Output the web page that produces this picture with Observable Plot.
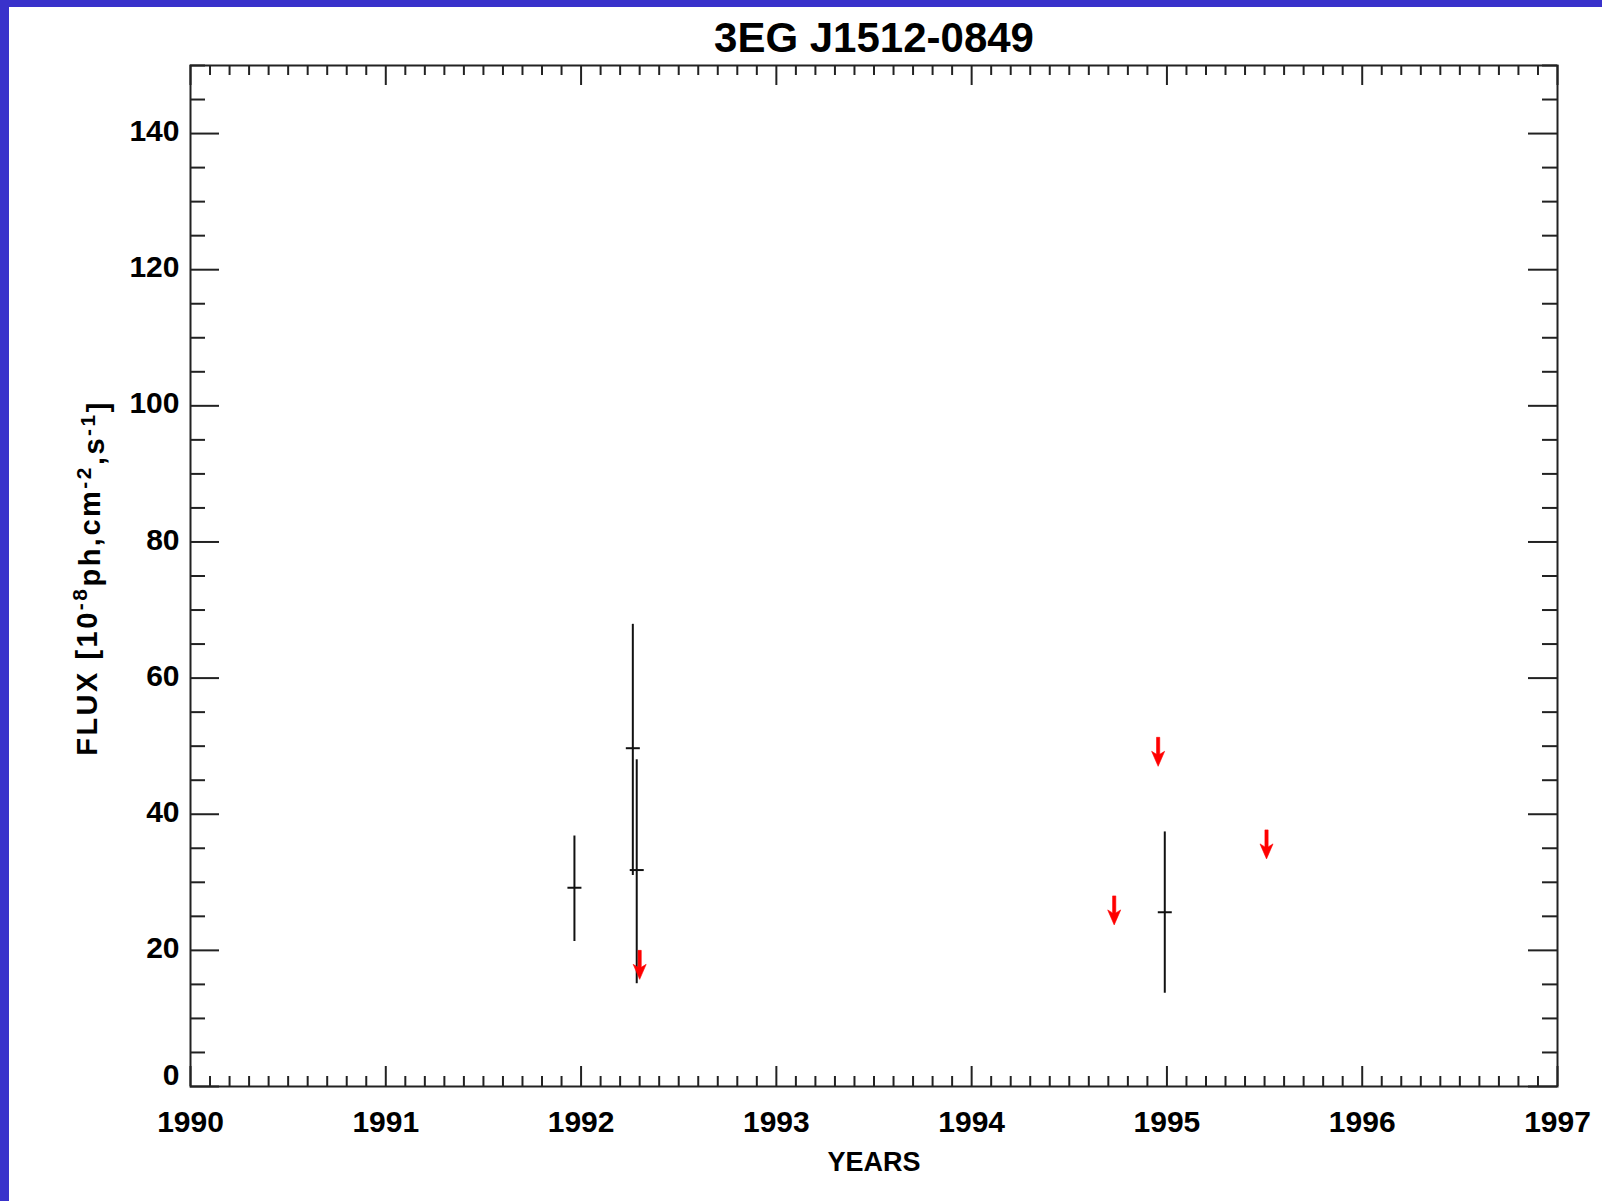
<!DOCTYPE html>
<html>
<head>
<meta charset="utf-8">
<script src="https://cdn.jsdelivr.net/npm/d3@7"></script>
<script src="https://cdn.jsdelivr.net/npm/@observablehq/plot@0.6"></script>
<style>
  body { margin: 0; background: #ffffff; }
  #wrap { position: relative; width: 1602px; height: 1201px; overflow: hidden; background: #fff; }
  .band-top { position: absolute; left: 0; top: 0; width: 1602px; height: 7px; background: #3932CB; }
  .band-left { position: absolute; left: 0; top: 0; width: 9px; height: 1201px; background: #3932CB; }
</style>
</head>
<body>
<div id="wrap"><div class="band-top"></div><div class="band-left"></div></div>
<script>
// ---- data ----
const title = "3EG J1512-0849";
const xLabel = "YEARS";
// detections (flux with 1-sigma error bars)
const years  = [1991.966, 1992.265, 1992.285, 1994.989];
const flux   = [29.2, 49.7, 31.8, 25.6];
const fluxHi = [36.8, 67.9, 48.0, 37.4];
const fluxLo = [21.3, 31.0, 15.1, 13.7];
// upper limits (red arrows)
const limitYears = [1992.30, 1994.73, 1994.955, 1995.51];
const limitFlux  = [20.0, 28.0, 51.3, 37.7];
// ticks
const xMajor = [1990, 1991, 1992, 1993, 1994, 1995, 1996, 1997];
const xMinor = d3.range(1990, 1997.001, 0.1).map(v => +v.toFixed(1)).filter(v => !xMajor.includes(v));
const yMajor = [0, 20, 40, 60, 80, 100, 120, 140];
const yMinor = d3.range(0, 151, 5).filter(v => !yMajor.includes(v));

const points = years.map((y, i) => ({year: y, flux: flux[i], hi: fluxHi[i], lo: fluxLo[i]}));
const limits = limitYears.map((y, i) => ({year: y, flux: limitFlux[i]}));

// ---- layout ----
const W = 1602, H = 1201;
const mL = 190, mR = 45, mT = 65, mB = 115;
const fW = W - mL - mR, fH = H - mT - mB;
const axisColor = "#222";
const font = "Liberation Sans, Arial, sans-serif";

const hbar = { draw(ctx) { ctx.moveTo(-7, 0); ctx.lineTo(7, 0); } };
const arrowDown = { draw(ctx) {
  ctx.moveTo(-1.6, 0); ctx.lineTo(1.6, 0); ctx.lineTo(1.6, 17);
  ctx.lineTo(6.5, 14); ctx.lineTo(0, 29); ctx.lineTo(-6.5, 14);
  ctx.lineTo(-1.6, 17); ctx.closePath();
} };

const txt = {fill: "#000", fontFamily: font, fontWeight: "bold"};

const plot = Plot.plot({
  width: W, height: H,
  marginLeft: mL, marginRight: mR, marginTop: mT, marginBottom: mB,
  style: {background: "transparent", fontFamily: font},
  x: {domain: [1990, 1997], axis: null},
  y: {domain: [0, 150], axis: null},
  marks: [
    // inside ticks, bottom & top
    Plot.ruleX(xMajor, {x: d => d, insetTop: fH - 20, stroke: axisColor, strokeWidth: 2}),
    Plot.ruleX(xMajor, {x: d => d, insetBottom: fH - 20, stroke: axisColor, strokeWidth: 2}),
    Plot.ruleX(xMinor, {x: d => d, insetTop: fH - 10, stroke: axisColor, strokeWidth: 2}),
    Plot.ruleX(xMinor, {x: d => d, insetBottom: fH - 10, stroke: axisColor, strokeWidth: 2}),
    // inside ticks, left & right
    Plot.ruleY(yMajor, {y: d => d, insetRight: fW - 29, stroke: axisColor, strokeWidth: 2}),
    Plot.ruleY(yMajor, {y: d => d, insetLeft: fW - 29, stroke: axisColor, strokeWidth: 2}),
    Plot.ruleY(yMinor, {y: d => d, insetRight: fW - 15, stroke: axisColor, strokeWidth: 2}),
    Plot.ruleY(yMinor, {y: d => d, insetLeft: fW - 15, stroke: axisColor, strokeWidth: 2}),
    Plot.frame({stroke: axisColor, strokeWidth: 2}),
    // tick labels
    Plot.text(xMajor, {x: d => d, text: d => String(d), frameAnchor: "bottom", lineAnchor: "bottom", dy: 45, fontSize: 30, ...txt}),
    Plot.text(yMajor.filter(d => d !== 0), {y: d => d, text: d => String(d), frameAnchor: "left", textAnchor: "end", dx: -11, dy: -2, fontSize: 30, ...txt}),
    Plot.text([0], {y: d => d, text: d => String(d), frameAnchor: "left", textAnchor: "end", dx: -11, dy: -11, fontSize: 30, ...txt}),
    // title & axis labels
    Plot.text([title], {text: d => d, frameAnchor: "top", lineAnchor: "bottom", dy: -14, fontSize: 42, ...txt}),
    Plot.text([xLabel], {text: d => d, frameAnchor: "bottom", lineAnchor: "bottom", dy: 84, fontSize: 27, ...txt}),
    Plot.text(["FLUX"], {text: d => d, frameAnchor: "left", textAnchor: "middle", rotate: -90, dx: -103, dy: 2, fontSize: 29, className: "ylab", ...txt}),
    // data: error bars
    Plot.ruleX(points, {x: "year", y1: "lo", y2: "hi", stroke: "#111", strokeWidth: 2}),
    Plot.dot(points, {x: "year", y: "flux", symbol: hbar, stroke: "#111", strokeWidth: 2, fill: "none"}),
    // upper limits
    Plot.dot(limits, {x: "year", y: "flux", symbol: arrowDown, fill: "#ff0000", stroke: "#ff0000", strokeWidth: 0.6})
  ]
});

// rich y-axis label with superscripts
const yl = d3.select(plot).select(".ylab text");
yl.text(null).attr("letter-spacing", "2.5").attr("text-anchor", "middle");
const parts = [
  ["FLUX [10", 0], ["-8", 1], ["ph,cm", 0], ["-2", 1], [",s", 0], ["-1", 1], ["]", 0]
];
let prev = 0;
parts.forEach(([s, sup]) => {
  const t = yl.append("tspan").text(s);
  if (sup) { t.attr("dy", "-0.45em").attr("font-size", "0.72em"); prev = 1; }
  else if (prev) { t.attr("dy", "0.45em").attr("font-size", "1em"); prev = 0; }
});

document.getElementById("wrap").appendChild(plot);
plot.style.position = "absolute";
plot.style.left = "0px";
plot.style.top = "0px";
d3.select("#wrap").selectAll(".band-top,.band-left").raise();
</script>
</body>
</html>
